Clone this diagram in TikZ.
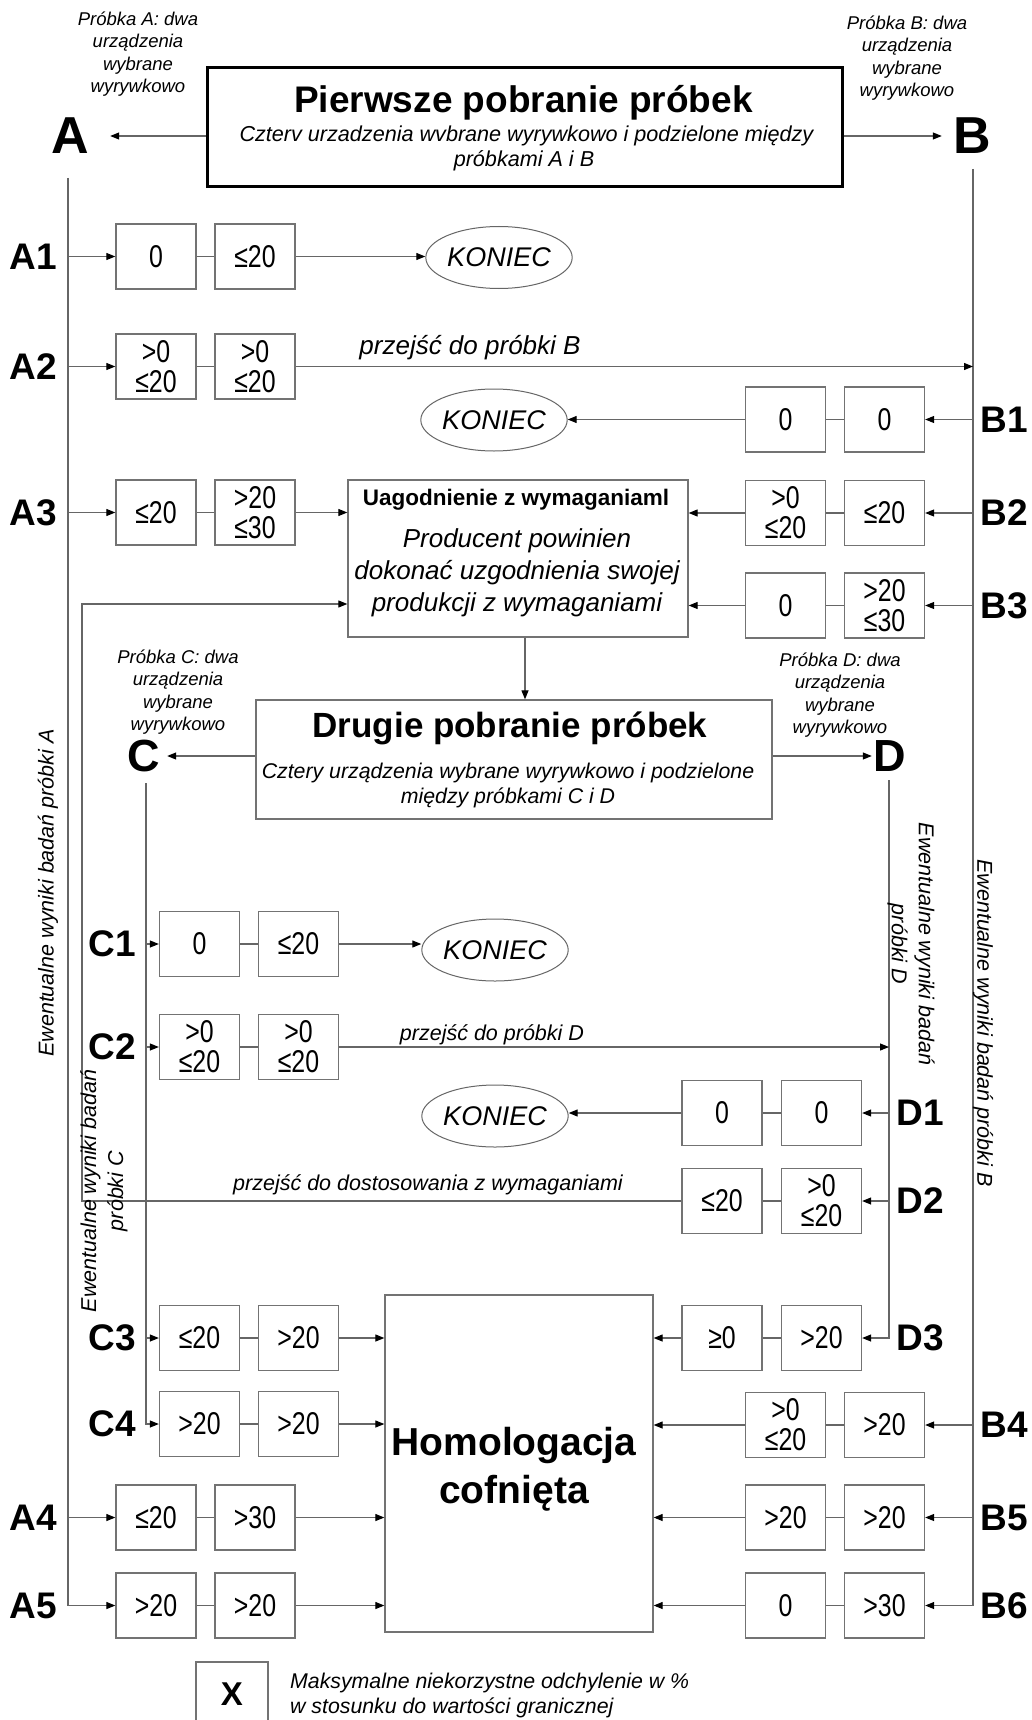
\documentclass[tikz,border=0pt]{standalone}
\usepackage{fontspec}
\setmainfont{Liberation Sans}
\newfontfamily\boxfont[FakeStretch=0.79]{Liberation Sans}
\usetikzlibrary{arrows.meta,shapes.geometric}
\newcommand\myfs[2]{\fontsize{#1}{#2}\selectfont}
\begin{document}
\begin{tikzpicture}[x=1pt,y=-1pt,
  ln/.style={draw=black!60, line width=1.1pt},
  arr/.style={ln, -{Triangle[length=9pt,width=7pt,color=black]}},
  box/.style={draw=black!55, line width=1.3pt, minimum width=80pt, minimum height=65pt, inner sep=0pt, align=center, font=\boxfont\myfs{31.5}{30}},
  lbl/.style={font=\myfs{37}{40}\bfseries, inner sep=0pt},
  big/.style={font=\myfs{52}{56}\bfseries, inner sep=0pt},
  mid/.style={font=\myfs{45}{50}\bfseries, inner sep=0pt},
  koniec/.style={ellipse, draw=black!60, line width=1pt, minimum width=138pt, minimum height=62pt, inner sep=0pt, font=\myfs{27}{30}\itshape},
  note/.style={font=\myfs{18.5}{22.3}\itshape, align=center, inner sep=0pt},
  it21/.style={font=\myfs{21.5}{27}\itshape, inner sep=0pt},
  panel/.style={draw=black!55, line width=1.3pt, inner sep=0pt}]
\fill[white] (0,0) rectangle (1031,1720);
\useasboundingbox (0,0) rectangle (1031,1720);

% ---------- first sampling ----------
\node[draw=black, line width=3pt, minimum width=635pt, minimum height=119pt, inner sep=0pt] (title) at (524.5,127.5) {};
\node[font=\myfs{37}{40}\bfseries, anchor=base, inner sep=0pt] (t1) at (523.5,113) {Pierwsze pobranie próbek};
\node[font=\myfs{21.6}{25}\itshape, anchor=base, inner sep=0pt] (t2) at (526.5,142) {Czterv urzadzenia wvbrane wyrywkowo i podzielone między};
\node[font=\myfs{21.6}{25}\itshape, anchor=base, inner sep=0pt] (t3) at (524,167) {próbkami A i B};

\node[note] (nA) at (138,54) {Próbka A: dwa\\urządzenia\\wybrane\\wyrywkowo};
\node[note] (nB) at (907,58) {Próbka B: dwa\\urządzenia\\wybrane\\wyrywkowo};
\node[big, minimum width=80pt] (Al) at (70,136) {A};
\node[big, minimum width=60pt] (Bl) at (972,136) {B};
\draw[arr] (title.west |- Al) -- (Al.east);
\draw[arr] (title.east |- Bl) -- (Bl.west);

\coordinate (Atop) at (68,178);
\coordinate (Btop) at (973,169);
\coordinate (Ctop) at (146,783);
\coordinate (Dtop) at (889,780);
\coordinate (Lturn) at (82,604);

% ---------- row labels ----------
\node[lbl] (lA1) at (33,256.5) {A1};
\node[lbl] (lA2) at (33,366.5) {A2};
\node[lbl] (lA3) at (33,512.5) {A3};
\node[lbl] (lA4) at (33,1517.5) {A4};
\node[lbl] (lA5) at (33,1605.5) {A5};
\node[lbl] (lB1) at (1004,419.5) {B1};
\node[lbl] (lB2) at (1004,513) {B2};
\node[lbl] (lB3) at (1004,605.5) {B3};
\node[lbl] (lB4) at (1004,1425) {B4};
\node[lbl] (lB5) at (1004,1517.5) {B5};
\node[lbl] (lB6) at (1004,1605.5) {B6};
\node[lbl] (lC1) at (112,944) {C1};
\node[lbl] (lC2) at (112,1047) {C2};
\node[lbl] (lC3) at (112,1338) {C3};
\node[lbl] (lC4) at (112,1424) {C4};
\node[lbl] (lD1) at (920,1113) {D1};
\node[lbl] (lD2) at (920,1201) {D2};
\node[lbl] (lD3) at (920,1338) {D3};

% ---------- boxes A ----------
\node[box] (a1l) at (156,256.5) {0};
\node[box] (a1r) at (255,256.5) {≤20};
\node[box] (a2l) at (156,366.5) {>0\\≤20};
\node[box] (a2r) at (255,366.5) {>0\\≤20};
\node[box] (a3l) at (156,512.5) {≤20};
\node[box] (a3r) at (255,512.5) {>20\\≤30};
\node[box] (a4l) at (156,1517.5) {≤20};
\node[box] (a4r) at (255,1517.5) {>30};
\node[box] (a5l) at (156,1605.5) {>20};
\node[box] (a5r) at (255,1605.5) {>20};
% ---------- boxes B ----------
\node[box] (b1l) at (785.5,419.5) {0};
\node[box] (b1r) at (884.5,419.5) {0};
\node[box] (b2l) at (785.5,513) {>0\\≤20};
\node[box] (b2r) at (884.5,513) {≤20};
\node[box] (b3l) at (785.5,605.5) {0};
\node[box] (b3r) at (884.5,605.5) {>20\\≤30};
\node[box] (b4l) at (785.5,1425) {>0\\≤20};
\node[box] (b4r) at (884.5,1425) {>20};
\node[box] (b5l) at (785.5,1517.5) {>20};
\node[box] (b5r) at (884.5,1517.5) {>20};
\node[box] (b6l) at (785.5,1605.5) {0};
\node[box] (b6r) at (884.5,1605.5) {>30};
% ---------- boxes C ----------
\node[box] (c1l) at (199.5,944) {0};
\node[box] (c1r) at (298.5,944) {≤20};
\node[box] (c2l) at (199.5,1047) {>0\\≤20};
\node[box] (c2r) at (298.5,1047) {>0\\≤20};
\node[box] (c3l) at (199.5,1338) {≤20};
\node[box] (c3r) at (298.5,1338) {>20};
\node[box] (c4l) at (199.5,1424) {>20};
\node[box] (c4r) at (298.5,1424) {>20};
% ---------- boxes D ----------
\node[box] (d1l) at (722,1113) {0};
\node[box] (d1r) at (821.5,1113) {0};
\node[box] (d2l) at (722,1201) {≤20};
\node[box] (d2r) at (821.5,1201) {>0\\≤20};
\node[box] (d3l) at (722,1338) {≥0};
\node[box] (d3r) at (821.5,1338) {>20};

% links between paired boxes
\foreach \p in {a1,a2,a3,a4,a5,b1,b2,b3,b4,b5,b6,c1,c2,c3,c4,d1,d2,d3}
  \draw[ln] (\p l.east) -- (\p r.west);

% ---------- KONIEC ----------
\node[koniec] (k1) at (499,257.5) {KONIEC};
\node[koniec] (k2) at (494,420) {KONIEC};
\node[koniec] (k3) at (495,950) {KONIEC};
\node[koniec] (k4) at (495,1116) {KONIEC};

% ---------- agreement box ----------
\node[panel, minimum width=340pt, minimum height=157pt] (uag) at (518,558.5) {};
\node[font=\myfs{22.5}{25}\bfseries, anchor=base, inner sep=0pt] (u1) at (516,505) {Uagodnienie z wymaganiaml};
\node[font=\myfs{26}{32}\itshape, align=center, inner sep=0pt] (u2) at (517,573) {Producent powinien\\dokonać uzgodnienia swojej\\produkcji z wymaganiami};

% ---------- second sampling ----------
\node[panel, minimum width=516pt, minimum height=119pt] (drugie) at (514,759.5) {};
\node[font=\myfs{35}{40}\bfseries, anchor=base, inner sep=0pt] (dt1) at (510,737) {Drugie pobranie próbek};
\node[font=\myfs{21.3}{25}\itshape, anchor=base, inner sep=0pt] (dt2) at (508,778) {Cztery urządzenia wybrane wyrywkowo i podzielone};
\node[font=\myfs{21.3}{25}\itshape, anchor=base, inner sep=0pt] (dt3) at (508,803) {między próbkami C i D};
\node[note] (nC) at (178,692) {Próbka C: dwa\\urządzenia\\wybrane\\wyrywkowo};
\node[note] (nD) at (840,695) {Próbka D: dwa\\urządzenia\\wybrane\\wyrywkowo};
\node[mid, minimum width=46pt] (Cl) at (144,756) {C};
\node[mid, minimum width=36pt] (Dl) at (890,756) {D};
\draw[arr] (drugie.west |- Cl) -- (Cl.east);
\draw[arr] (drugie.east |- Dl) -- (Dl.west);
\draw[arr] ([xshift=7pt]uag.south) -- ([xshift=7pt]uag.south |- drugie.north);

% ---------- withdrawal box ----------
\node[panel, minimum width=268pt, minimum height=337pt] (hom) at (519,1463.5) {};
\node[font=\myfs{39}{48}\bfseries, anchor=base, inner sep=0pt] (h1) at (514,1455) {Homologacja};
\node[font=\myfs{39}{48}\bfseries, anchor=base, inner sep=0pt] (h2) at (514,1503) {cofnięta};

% ---------- vertical trunks ----------
\draw[arr] (Atop) |- (a5l.west);
\foreach \r in {a1l,a2l,a3l,a4l} \draw[arr] (Atop |- \r.west) -- (\r.west);
\draw[arr] (Btop) |- (b6r.east);
\foreach \r in {b1r,b2r,b3r,b4r,b5r} \draw[arr] (Btop |- \r.east) -- (\r.east);
\draw[arr] (Ctop) |- (c4l.west);
\foreach \r in {c1l,c2l,c3l} \draw[arr] (Ctop |- \r.west) -- (\r.west);
\draw[arr] (Dtop) |- (d3r.east);
\foreach \r in {d1r,d2r} \draw[arr] (Dtop |- \r.east) -- (\r.east);

% ---------- outcomes ----------
\draw[arr] (a1r.east) -- (k1.west |- a1r.east);
\draw[arr] (a2r.east) -- (Btop |- a2r.east);
\node[font=\myfs{26}{30}\itshape, anchor=base, inner sep=0pt] (pB) at (470,354) {przejść do próbki B};
\draw[arr] (b1l.west) -- (k2.east |- b1l.west);
\draw[arr] (a3r.east) -- (uag.west |- a3r.east);
\draw[arr] (b2l.west) -- (uag.east |- b2l.west);
\draw[arr] (b3l.west) -- (uag.east |- b3l.west);
\draw[arr] (c1r.east) -- (k3.west |- c1r.east);
\draw[arr] (c2r.east) -- (Dtop |- c2r.east);
\node[it21, anchor=base] (pD) at (492,1040) {przejść do próbki D};
\draw[arr] (d1l.west) -- (k4.east |- d1l.west);
\draw[arr] (d2l.west) -| (Lturn) -- (uag.west |- Lturn);
\node[it21, anchor=base] (pW) at (428,1190) {przejść do dostosowania z wymaganiami};
\draw[arr] (d3l.west) -- (hom.east |- d3l.west);
\foreach \r in {c3r,c4r,a4r,a5r} \draw[arr] (\r.east) -- (hom.west |- \r.east);
\foreach \r in {b4l,b5l,b6l} \draw[arr] (\r.west) -- (hom.east |- \r.west);

% ---------- rotated captions ----------
\node[it21, rotate=90] (ewA) at (48,893) {Ewentualne wyniki badań próbki A};
\node[it21, rotate=90, align=center] (ewC) at (104,1191) {Ewentualne wyniki badań\\próbki C};
\node[it21, rotate=-90, align=center] (ewD) at (911,944) {Ewentualne wyniki badań\\próbki D};
\node[it21, rotate=-90] (ewB) at (983,1023) {Ewentualne wyniki badań próbki B};

% ---------- legend ----------
\node[box, minimum width=72pt, minimum height=65pt, font=\myfs{33}{36}\bfseries] (leg) at (232,1694.5) {X};
\node[font=\myfs{21.3}{25}\itshape, anchor=west, align=left, inner sep=0pt] (legt) at (290,1695) {Maksymalne niekorzystne odchylenie w \%\\w stosunku do wartości granicznej};
\end{tikzpicture}
\end{document}
